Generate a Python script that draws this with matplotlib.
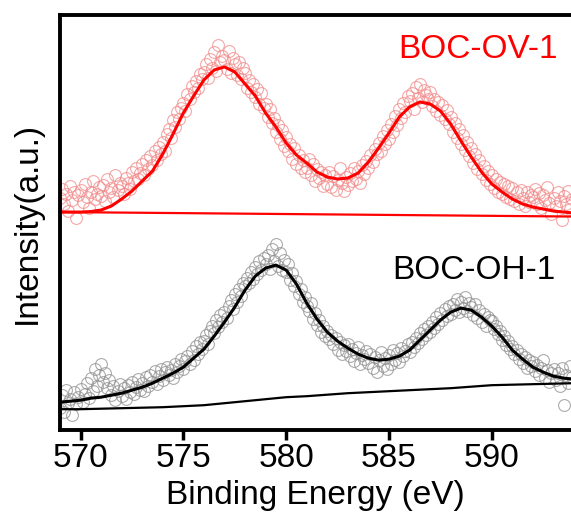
import numpy as np
import matplotlib.pyplot as plt

plt.rcParams['font.family'] = ['Liberation Sans', 'DejaVu Sans']

# fitted envelopes, sampled every 0.5 eV from 569.0 to 594.0
fit_energy = [569.0 + 0.5 * i for i in range(51)]
ov_fit = [218, 218, 218, 218.5, 220, 224, 231, 239, 249, 259,
          276, 296, 317, 334, 350, 360, 363, 358, 346, 334,
          317, 303, 287, 275, 267, 258, 253, 251, 252, 257,
          268, 282, 297, 313, 323, 328, 326, 319, 306, 289,
          273, 258, 246, 238, 231, 226, 223, 221, 219, 218, 217]
oh_fit = [28, 29, 30, 32, 33, 35, 37, 40, 43, 47,
          52, 57, 63, 72, 81, 94, 108, 123, 140, 154,
          162, 165, 160, 146, 127, 111, 98, 89, 82, 76,
          72, 70, 71, 74, 80, 90, 100, 110, 118, 122,
          120, 113, 104, 93, 80, 71, 63, 58, 54, 52, 51]

# backgrounds
ov_bg_energy = [569, 594]
ov_bg = [218, 213.5]
oh_bg_energy = list(range(569, 595))
oh_bg = [21, 21, 21.5, 22, 22.5, 23, 24, 25, 27, 29, 31, 33, 34,
         35.5, 37, 38, 39, 40, 41, 42, 43.5, 45, 45.5, 46, 46.5, 47]

# measured points, every 0.1 eV from 569.0 to 593.9
raw_energy = [569.0 + 0.1 * i for i in range(250)]
ov_raw = [232, 241, 226, 236, 219, 244, 230, 238, 212, 235,
          240, 228, 246, 233, 222, 238, 249, 231, 236, 243,
          234, 245, 229, 251, 238, 242, 233, 255, 240, 247,
          244, 236, 252, 247, 241, 258, 249, 262, 251, 257,
          266, 255, 270, 261, 274, 265, 279, 270, 283, 276,
          288, 279, 296, 301, 292, 310, 303, 318, 311, 322,
          327, 319, 336, 331, 344, 338, 349, 342, 356, 351,
          358, 366, 352, 371, 362, 378, 359, 385, 368, 374,
          370, 361, 379, 357, 372, 366, 355, 368, 351, 362,
          357, 342, 350, 338, 346, 333, 341, 326, 337, 322,
          326, 313, 321, 307, 312, 298, 305, 291, 300, 284,
          293, 279, 286, 271, 282, 266, 275, 262, 270, 258,
          262, 271, 255, 266, 249, 261, 252, 258, 244, 255,
          246, 258, 243, 254, 240, 250, 262, 247, 239, 253,
          245, 257, 249, 262, 251, 259, 247, 265, 256, 269,
          262, 275, 268, 281, 276, 287, 279, 294, 286, 300,
          291, 306, 298, 314, 305, 321, 312, 327, 318, 334,
          329, 337, 321, 343, 332, 346, 328, 340, 335, 331,
          338, 324, 331, 319, 328, 315, 325, 311, 320, 306,
          313, 298, 307, 292, 301, 286, 295, 280, 288, 274,
          282, 267, 276, 261, 270, 256, 264, 250, 259, 246,
          255, 242, 251, 238, 248, 236, 246, 233, 244, 231,
          242, 229, 238, 226, 240, 232, 224, 238, 228, 235,
          233, 241, 226, 237, 222, 235, 230, 243, 227, 216,
          232, 224, 238, 229, 210, 234, 226, 239, 221, 231]
oh_raw = [22, 35, 18, 40, 27, 31, 15, 38, 26, 33,
          41, 28, 36, 47, 32, 52, 39, 61, 44, 55,
          66, 48, 57, 42, 50, 35, 44, 30, 39, 46,
          34, 42, 31, 45, 38, 48, 36, 43, 51, 40,
          47, 39, 53, 44, 55, 48, 59, 46, 54, 61,
          50, 58, 63, 55, 60, 52, 66, 58, 64, 71,
          61, 69, 74, 66, 79, 70, 84, 76, 88, 81,
          89, 95, 86, 99, 104, 97, 110, 103, 115, 108,
          118, 112, 124, 130, 121, 136, 128, 141, 134, 147,
          144, 152, 147, 158, 151, 163, 156, 169, 160, 172,
          166, 175, 161, 181, 169, 186, 164, 177, 160, 170,
          158, 166, 150, 157, 144, 149, 136, 141, 128, 133,
          124, 119, 127, 111, 117, 105, 110, 98, 104, 94,
          99, 91, 95, 86, 92, 80, 88, 76, 85, 79,
          86, 74, 81, 69, 77, 83, 66, 75, 71, 79,
          67, 76, 62, 73, 58, 70, 78, 64, 72, 61,
          75, 66, 80, 70, 77, 68, 82, 74, 79, 86,
          78, 88, 83, 92, 87, 97, 91, 101, 95, 104,
          98, 108, 102, 113, 106, 117, 110, 121, 114, 124,
          116, 126, 120, 131, 118, 128, 122, 133, 119, 127,
          123, 115, 126, 112, 120, 108, 116, 104, 113, 110,
          109, 101, 104, 96, 99, 90, 94, 85, 89, 81,
          84, 76, 80, 71, 76, 67, 73, 62, 70, 64,
          68, 59, 65, 55, 62, 70, 52, 60, 48, 57,
          61, 50, 57, 44, 62, 25, 55, 47, 64, 53]

fig = plt.figure(figsize=(5.71, 5.14), dpi=100)
ax = fig.add_axes([0.105, 0.163, 0.895, 0.808])

ax.plot(raw_energy, ov_raw, 'o', ms=8.5, mfc='none', mec='#f28a8a', mew=0.8, alpha=0.75)
ax.plot(raw_energy, oh_raw, 'o', ms=8.5, mfc='none', mec='#909090', mew=0.8, alpha=0.75)

ax.plot(ov_bg_energy, ov_bg, color='red', lw=1.6)
ax.plot(fit_energy, ov_fit, color='red', lw=2.2)
ax.plot(oh_bg_energy, oh_bg, color='black', lw=1.6)
ax.plot(fit_energy, oh_fit, color='black', lw=2.2)

ax.text(593.2, 380, 'BOC-OV-1', color='red', fontsize=24, ha='right', va='center')
ax.text(593.1, 160, 'BOC-OH-1', color='black', fontsize=24, ha='right', va='center')

ax.set_xlim(569, 593.85)
ax.set_ylim(0, 415)
ax.set_xticks([570, 575, 580, 585, 590])
ax.set_yticks([])
ax.tick_params(axis='x', direction='out', length=7, width=2.5, labelsize=24, pad=2)
for s in ['left', 'top', 'bottom']:
    ax.spines[s].set_linewidth(2.8)
ax.spines['right'].set_visible(False)

ax.set_xlabel('Binding Energy (eV)', fontsize=24, labelpad=4.5)
ax.set_ylabel('Intensity(a.u.)', fontsize=24, labelpad=12)

fig.savefig('out.png', dpi=100)
